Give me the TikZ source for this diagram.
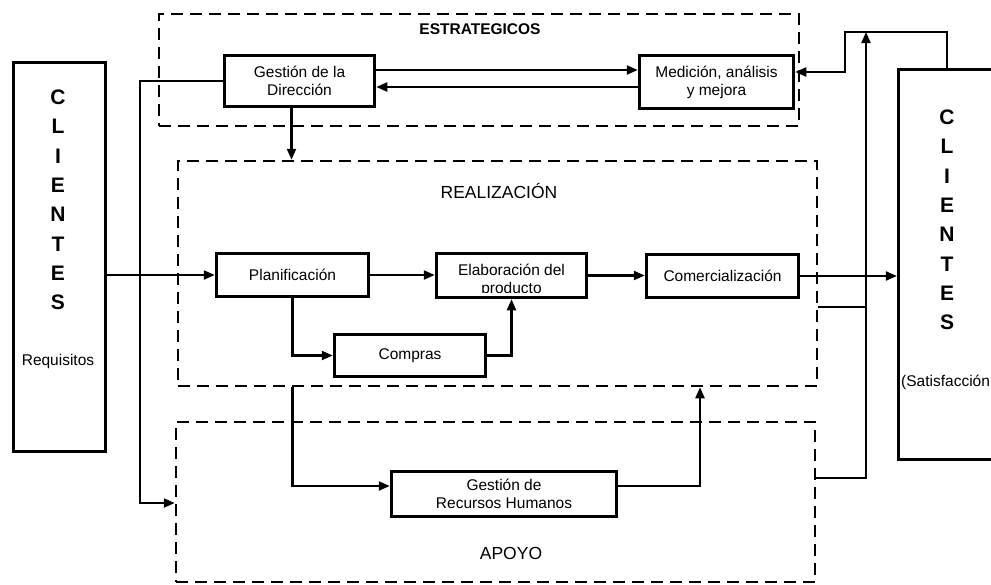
\documentclass[tikz,border=0pt]{standalone}
\usepackage{fontspec}
\setmainfont{Liberation Sans}
\usetikzlibrary{arrows.meta,positioning,calc}

\begin{document}
\begin{tikzpicture}[
  x=1pt, y=-1pt,
  font=\fontsize{15.5}{18}\selectfont,
  >=Stealth,
  box/.style={
    draw=black, align=center, inner sep=0pt,
    fill=white, line width=3.5pt
  },
  cli/.style={draw=black, inner sep=0pt, line width=3.2pt},
  frame/.style={
    draw=black, inner sep=0pt, line width=2.5pt,
    dash pattern=on 12pt off 7pt
  },
  arr/.style={-{Triangle[length=11pt,width=9pt]}, line width=2.2pt, draw=black},
  linea/.style={line width=2.2pt, draw=black},
  letras/.style={font=\fontsize{21}{29.3}\selectfont\bfseries, align=center, inner sep=0pt},
  seccion/.style={font=\fontsize{17.5}{20}\selectfont}
]
  \useasboundingbox (0,0) rectangle (991,584);

  %% frames
  \node[frame, minimum width=640, minimum height=112] (est) at (479,70) {};
  \node[frame, minimum width=639, minimum height=225] (real) at (497.5,273.5) {};
  \node[frame, minimum width=639, minimum height=160] (apoyo) at (495.5,502) {};
  \node[font=\fontsize{15.5}{18}\selectfont\bfseries] (tEst) at (480,29) {ESTRATEGICOS};
  \node[seccion] (tReal) at (499,191) {REALIZACIÓN};
  \node[seccion] (tApoyo) at (511,553) {APOYO};

  %% clientes
  \node[cli, minimum width=92, minimum height=389] (cliL) at (59.5,257) {};
  \node[letras] (letL) at (58,200) {C\\L\\I\\E\\N\\T\\E\\S};
  \node (tReq) at (58,361) {Requisitos};
  \node[cli, minimum width=103, minimum height=390] (cliR) at (950,264.5) {};
  \node[letras] (letR) at (947,220) {C\\L\\I\\E\\N\\T\\E\\S};
  \node[anchor=west, inner sep=0pt] (tSat) at (901,382) {(Satisfacción};

  %% estrategicos
  \node[box, minimum width=150, minimum height=51] (gd) at (299.5,81) {Gestión de la\\Dirección};
  \node[box, minimum width=154, minimum height=53] (med) at (716.5,82) {Medición, análisis\\y mejora};
  \draw[arr] ([yshift=11pt]gd.east) -- ([yshift=11pt]gd.east -| med.west);
  \draw[arr] ([yshift=-5pt]med.west) -- ([yshift=-5pt]med.west -| gd.east);
  \draw[arr] ([xshift=-8pt]gd.south) -- ([xshift=-8pt]gd.south |- real.north);
  \coordinate (izq) at (140,503);
  \draw[arr] (gd.west) -| (izq) -- (izq -| apoyo.west);

  %% realizacion
  \node[box, minimum width=152, minimum height=43] (plan) at (292.5,275) {Planificación};
  \node[box, minimum width=150, minimum height=44] (elab) at (511.5,275.5) {};
  \begin{scope}
    \clip (437,256) rectangle (586,292);
    \node[align=center] (elabtxt) at (511.5,280) {Elaboración del\\producto};
  \end{scope}
  \node[box, minimum width=152, minimum height=43] (com) at (722.5,276) {Comercialización};
  \node[box, minimum width=151, minimum height=42] (comp) at (410,355.5) {Compras};
  \draw[arr] (cliL.east |- plan.west) -- (plan.west);
  \draw[arr] (plan.east) -- (plan.east -| elab.west);
  \draw[arr] (elab.east) -- (elab.east -| com.west);
  \draw[arr] (plan.south) |- (comp.west);
  \draw[arr] (comp.east) -| (elab.south);
  \draw[arr] (com.east) -- (com.east -| cliR.west);

  %% apoyo
  \node[box, minimum width=225, minimum height=45] (rrhh) at (504,494) {Gestión de\\Recursos Humanos};
  \draw[arr] (plan.south |- real.south) |- ([yshift=8pt]rrhh.west);
  \coordinate (r1) at (700,0);
  \draw[arr] ([yshift=8pt]rrhh.east) -| (r1 |- real.south);

  %% salida a clientes y retorno
  \coordinate (sube) at (866,32);
  \draw[arr] ([yshift=24pt]apoyo.east) -| (sube);
  \draw[linea] ([yshift=-33.5pt]real.east) -- ([yshift=-33.5pt]real.east -| sube);
  \coordinate (vuelta) at (845,32);
  \draw[arr] ([xshift=-3pt]cliR.north) |- (vuelta) |- ([yshift=10pt]med.east);
\end{tikzpicture}
\end{document}
